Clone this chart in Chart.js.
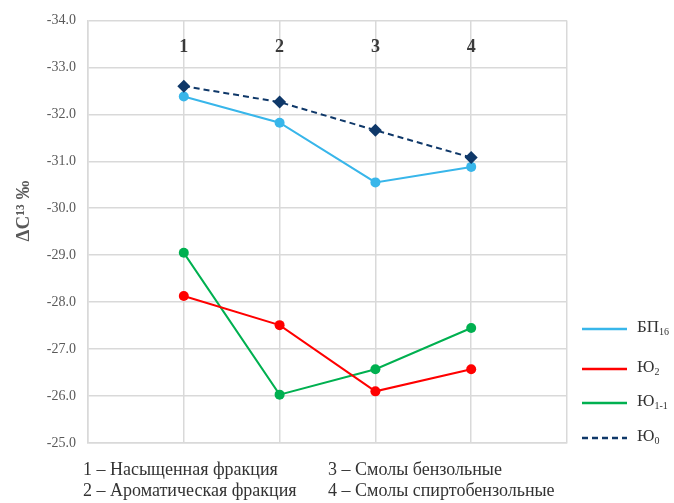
<!DOCTYPE html>
<html>
<head>
<meta charset="utf-8">
<script src="https://cdn.jsdelivr.net/npm/chart.js@4"></script>
<style>
	body { margin: 0; background: #fff; }
	#wrap { position: relative; width: 674px; height: 503px; font-family: "Liberation Serif", "Times New Roman", serif; color: #333; }
	#chart { position: absolute; left: 0; top: 0; }
	.leg { position: absolute; left: 582px; height: 20px; font-size: 17px; line-height: 20px; white-space: nowrap; }
	.leg svg { position: absolute; left: 0; top: 9px; }
	.leg span { position: absolute; left: 55px; top: -1px; }
	.leg sub { font-size: 10px; vertical-align: -3px; }
	.note { position: absolute; font-size: 18px; white-space: nowrap; color: #333; }
</style>
</head>
<body>
<div id="wrap">
	<canvas id="chart" width="674" height="503"></canvas>
</div>
<script>
var fractions = ["1", "2", "3", "4"];
var notes = ["1 – Насыщенная фракция", "2 – Ароматическая фракция", "3 – Смолы бензольные", "4 – Смолы спиртобензольные"];

var seriesNames = ["БП", "Ю", "Ю", "Ю"];
var seriesSubs = ["16", "2", "1-1", "0"];

var bp16 = [-32.38, -31.82, -30.55, -30.88];
var yu2 = [-28.13, -27.51, -26.1, -26.57];
var yu11 = [-29.05, -26.03, -26.57, -27.45];
var yu0 = [-32.6, -32.26, -31.66, -31.08];

var yMin = -34, yMax = -25, yStep = 1;
var yTitle = "ΔC¹³ ‰";

function pts(vals) {
	return vals.map(function(v, i) { return { x: i + 1, y: v }; });
}

var datasets = [
	{ label: seriesNames[0] + seriesSubs[0], data: pts(bp16), borderColor: "#38b6ea", backgroundColor: "#38b6ea", pointStyle: "circle", pointRadius: 5, borderDash: [] },
	{ label: seriesNames[1] + seriesSubs[1], data: pts(yu2), borderColor: "#ff0000", backgroundColor: "#ff0000", pointStyle: "circle", pointRadius: 5, borderDash: [] },
	{ label: seriesNames[2] + seriesSubs[2], data: pts(yu11), borderColor: "#00b050", backgroundColor: "#00b050", pointStyle: "circle", pointRadius: 5, borderDash: [] },
	{ label: seriesNames[3] + seriesSubs[3], data: pts(yu0), borderColor: "#0f3869", backgroundColor: "#0f3869", pointStyle: "rectRot", pointRadius: 6.5, borderDash: [6, 4] }
];
datasets.forEach(function(d) {
	d.borderWidth = 2;
	d.pointBorderWidth = 0;
	d.tension = 0;
});
// dashed one drawn last, on top
datasets[3].order = -1;

var extraText = {
	id: "extraText",
	afterDraw: function(chart) {
		var c = chart.ctx, x = chart.scales.x, a = chart.chartArea;
		c.save();
		c.font = "bold 18px 'Liberation Serif', serif";
		c.fillStyle = "#3a3a3a";
		c.textAlign = "center";
		c.textBaseline = "middle";
		fractions.forEach(function(f, i) {
			c.fillText(f, x.getPixelForValue(i + 1), a.top + 27);
		});
		// y axis title, a bit above the middle like the original
		c.translate(24, 211);
		c.rotate(-Math.PI / 2);
		c.font = "bold 19px 'Liberation Serif', serif";
		c.fillStyle = "#595959";
		c.fillText(yTitle, 0, 0);
		c.restore();
	}
};

var gridColor = "#d9d9d9";

new Chart(document.getElementById("chart"), {
	type: "line",
	data: { datasets: datasets },
	options: {
		responsive: false,
		animation: false,
		layout: { padding: { left: 0, top: 20, right: 107, bottom: 60 } },
		plugins: { legend: { display: false }, tooltip: { enabled: false } },
		scales: {
			x: {
				type: "linear",
				min: 0,
				max: fractions.length + 1,
				ticks: { display: false, stepSize: 1 },
				grid: { color: gridColor, lineWidth: 1.5, drawTicks: false },
				border: { color: gridColor, width: 1.5 },
				afterFit: function(s) { s.height = 0; }
			},
			y: {
				min: yMin,
				max: yMax,
				reverse: true,
				ticks: {
					stepSize: yStep,
					color: "#595959",
					font: { family: "'Liberation Serif', serif", size: 14 },
					padding: 12,
					callback: function(v) { return v.toFixed(1); }
				},
				grid: { color: gridColor, lineWidth: 1.5, drawTicks: false },
				border: { color: gridColor, width: 1.5 },
				afterFit: function(s) { s.width = 88; }
			}
		}
	},
	plugins: [extraText]
});

// legend with subscripts
var wrap = document.getElementById("wrap");
var legTops = [318, 358, 392, 427];
datasets.forEach(function(d, i) {
	var el = document.createElement("div");
	el.className = "leg";
	el.style.top = legTops[i] + "px";
	var dash = d.borderDash.length ? ' stroke-dasharray="' + d.borderDash.join(",") + '"' : "";
	el.innerHTML = '<svg width="45" height="4"><line x1="0" y1="2" x2="45" y2="2" stroke="' + d.borderColor + '" stroke-width="2.5"' + dash + '/></svg>' +
		'<span>' + seriesNames[i] + '<sub>' + seriesSubs[i] + '</sub></span>';
	wrap.appendChild(el);
});

var noteX = [83, 83, 328, 328];
var noteY = [459, 480, 459, 480];
notes.forEach(function(t, i) {
	var el = document.createElement("div");
	el.className = "note";
	el.style.left = noteX[i] + "px";
	el.style.top = noteY[i] + "px";
	el.textContent = t;
	wrap.appendChild(el);
});
</script>
</body>
</html>
